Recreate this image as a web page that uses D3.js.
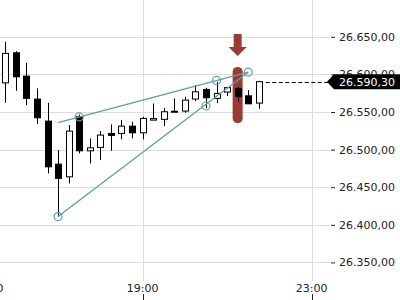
<!DOCTYPE html>
<html lang="de">
<head>
<meta charset="UTF-8">
<title>Candles</title>
<style>
    body { margin: 0; background: #fff; }
    svg { display: block; font-family: "DejaVu Sans", sans-serif; }
</style>
</head>
<body>
<svg id="chart" width="400" height="300"></svg>
<script src="https://d3js.org/d3.v7.min.js"></script>
<script>
    // 15 minute candles
    const times = ["15:45", "16:00", "16:15", "16:30", "16:45", "17:00", "17:15", "17:30", "17:45",
        "18:00", "18:15", "18:30", "18:45", "19:00", "19:15", "19:30", "19:45", "20:00", "20:15",
        "20:30", "20:45", "21:00", "21:15", "21:30", "21:45"];
    const open = [26588.8, 26628.7, 26597.7, 26567.2, 26537.9, 26480.7, 26463.8, 26543.6, 26498.4,
        26502.9, 26521.5, 26521.5, 26531.2, 26522.3, 26539.2, 26540.2, 26550.3, 26551.2, 26567.2,
        26580.0, 26568.1, 26576.5, 26581.4, 26571.5, 26561.8];
    const high = [26643.4, 26631.0, 26615.4, 26581.4, 26562.2, 26499.3, 26532.6, 26546.5, 26514.9,
        26524.6, 26533.5, 26539.2, 26537.0, 26543.6, 26561.3, 26555.6, 26568.1, 26570.2, 26585.8,
        26582.2, 26590.2, 26583.1, 26583.5, 26579.1, 26591.5];
    const low = [26562.2, 26578.2, 26559.2, 26533.9, 26468.4, 26410.6, 26455.0, 26495.0, 26481.6,
        26486.0, 26498.4, 26513.6, 26514.9, 26513.6, 26539.2, 26531.2, 26550.3, 26549.0, 26564.5,
        26554.8, 26561.8, 26571.1, 26563.6, 26560.5, 26554.3];
    const close = [26627.9, 26596.8, 26568.1, 26542.3, 26477.1, 26461.7, 26524.6, 26498.4, 26502.4,
        26519.3, 26518.9, 26531.2, 26522.3, 26541.5, 26541.2, 26550.3, 26551.0, 26565.8, 26576.9,
        26568.9, 26574.7, 26582.4, 26570.5, 26560.9, 26590.3];

    const lastPrice = 26590.30;
    const yTicks = [26350, 26400, 26450, 26500, 26550, 26600, 26650];
    const xTicks = ["15:20", "19:00", "23:00"];

    // wedge drawn on the chart
    const upperLine = [["17:00", 26536], ["21:30", 26603]];
    const lowerLine = [["17:00", 26411], ["21:30", 26603]];
    const markers = [["17:00", 26411], ["17:30", 26543.5], ["20:30", 26558], ["20:45", 26592], ["21:30", 26603]];
    const highlight = { time: "21:15", top: 26610, bottom: 26535 };

    const parse = d3.timeParse("%H:%M");
    const candles = times.map((t, i) => ({
        t: parse(t), o: open[i], h: high[i], l: low[i], c: close[i]
    }));

    const width = 400, height = 300, plotRight = 330;
    const svg = d3.select("#chart");

    const x = d3.scaleTime()
        .domain([parse("15:37").getTime() + 30000, parse("23:30")])
        .range([0, 332.7]);
    const y = d3.scaleLinear()
        .domain([26350, 26650])
        .range([262.4, 36.8]);

    const locale = d3.formatLocale({ decimal: ",", thousands: ".", grouping: [3], currency: ["", "€"] });
    const fmt = locale.format(",.2f");
    const crisp = v => Math.round(v) + 0.5;

    // grid
    svg.append("g").selectAll("line")
        .data(yTicks).enter().append("line")
        .attr("x1", 0).attr("x2", plotRight)
        .attr("y1", d => crisp(y(d))).attr("y2", d => crisp(y(d)))
        .attr("stroke", "#dcdcdc");
    svg.append("g").selectAll("line")
        .data(xTicks).enter().append("line")
        .attr("x1", d => crisp(x(parse(d)))).attr("x2", d => crisp(x(parse(d))))
        .attr("y1", 0).attr("y2", 281)
        .attr("stroke", "#dcdcdc");

    // y axis on the right
    const yAxis = svg.append("g")
        .attr("transform", `translate(${plotRight + 1},0)`)
        .call(d3.axisRight(y).tickValues(yTicks).tickSize(4).tickPadding(4).tickFormat(fmt));
    yAxis.select(".domain").remove();
    yAxis.selectAll(".tick line").attr("stroke", "#222");
    yAxis.selectAll("text").attr("font-size", 11).attr("fill", "#222")
        .attr("font-family", "DejaVu Sans, sans-serif");

    // x axis labels with small ticks underneath
    const xg = svg.append("g");
    xg.selectAll("text").data(xTicks).enter().append("text")
        .attr("x", d => x(parse(d))).attr("y", 291.5)
        .attr("text-anchor", "middle").attr("font-size", 11).attr("fill", "#222")
        .text(d => d);
    xg.selectAll("line").data(xTicks).enter().append("line")
        .attr("x1", d => crisp(x(parse(d)))).attr("x2", d => crisp(x(parse(d))))
        .attr("y1", 294).attr("y2", 300).attr("stroke", "#222");

    // highlight bar + arrow
    const red = "#9c3a34";
    const hx = x(parse(highlight.time));
    svg.append("rect")
        .attr("x", hx - 5).attr("width", 10)
        .attr("y", y(highlight.top)).attr("height", y(highlight.bottom) - y(highlight.top))
        .attr("rx", 5).attr("fill", red);
    const at = y(highlight.top);
    svg.append("path")
        .attr("d", `M${hx - 4},${at - 33} L${hx + 4},${at - 33} L${hx + 4},${at - 20} L${hx + 9},${at - 20}
                    L${hx},${at - 11} L${hx - 9},${at - 20} L${hx - 4},${at - 20} Z`)
        .attr("fill", red);

    // candles
    const bodyW = 6;
    const cg = svg.append("g").selectAll("g").data(candles).enter().append("g");
    cg.append("line")
        .attr("x1", d => crisp(x(d.t))).attr("x2", d => crisp(x(d.t)))
        .attr("y1", d => y(d.h)).attr("y2", d => y(d.l))
        .attr("stroke", "#000");
    cg.append("rect")
        .attr("x", d => crisp(x(d.t)) - bodyW / 2)
        .attr("width", bodyW)
        .attr("y", d => y(Math.max(d.o, d.c)))
        .attr("height", d => Math.max(1, Math.abs(y(d.o) - y(d.c))))
        .attr("fill", d => d.c >= d.o ? "#fff" : "#000")
        .attr("stroke", "#000");

    // wedge lines
    const teal = "#5f9ea0";
    const line = d3.line().x(d => x(parse(d[0]))).y(d => y(d[1]));
    [upperLine, lowerLine].forEach(pts => {
        svg.append("path").attr("d", line(pts))
            .attr("fill", "none").attr("stroke", teal).attr("stroke-width", 1.3);
    });
    svg.append("g").selectAll("circle").data(markers).enter().append("circle")
        .attr("cx", d => x(parse(d[0]))).attr("cy", d => y(d[1])).attr("r", 4)
        .attr("fill", "none").attr("stroke", teal).attr("stroke-width", 1.2);

    // last price line and tag
    const last = candles[candles.length - 1];
    const ly = y(lastPrice);
    svg.append("line")
        .attr("x1", x(last.t) + 7).attr("x2", plotRight)
        .attr("y1", crisp(ly)).attr("y2", crisp(ly))
        .attr("stroke", "#000").attr("stroke-dasharray", "4,2.5");
    svg.append("path")
        .attr("d", `M327,${ly} L334,${ly - 7.5} L${width},${ly - 7.5} L${width},${ly + 7.5} L334,${ly + 7.5} Z`)
        .attr("fill", "#000");
    svg.append("text")
        .attr("x", 339).attr("y", ly).attr("dy", "0.35em")
        .attr("font-size", 11).attr("fill", "#fff")
        .text(fmt(lastPrice));
</script>
</body>
</html>
